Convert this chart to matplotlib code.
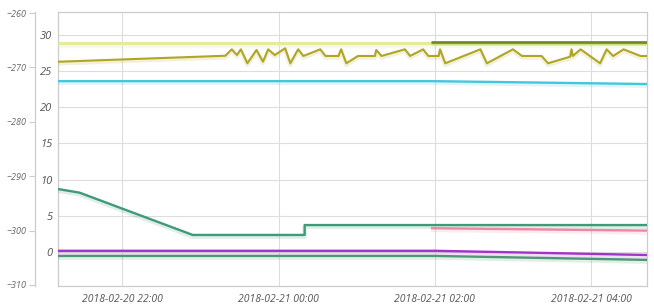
import matplotlib
matplotlib.use("Agg")
import matplotlib.pyplot as plt
import matplotlib.dates as mdates
import matplotlib.patheffects as pe
import pandas as pd

# ---------------- data ----------------
zig_times = ['2018-02-20 21:10:30', '2018-02-20 23:19', '2018-02-20 23:24', '2018-02-20 23:28',
             '2018-02-20 23:31', '2018-02-20 23:36', '2018-02-20 23:43', '2018-02-20 23:48',
             '2018-02-20 23:52', '2018-02-20 23:57', '2018-02-21 00:05', '2018-02-21 00:09',
             '2018-02-21 00:15', '2018-02-21 00:19', '2018-02-21 00:32', '2018-02-21 00:36',
             '2018-02-21 00:46', '2018-02-21 00:48', '2018-02-21 00:52', '2018-02-21 01:01',
             '2018-02-21 01:14', '2018-02-21 01:15', '2018-02-21 01:19', '2018-02-21 01:37',
             '2018-02-21 01:41', '2018-02-21 01:51', '2018-02-21 01:55', '2018-02-21 02:03',
             '2018-02-21 02:04', '2018-02-21 02:08', '2018-02-21 02:35', '2018-02-21 02:40',
             '2018-02-21 03:00', '2018-02-21 03:07', '2018-02-21 03:22', '2018-02-21 03:27',
             '2018-02-21 03:44', '2018-02-21 03:45', '2018-02-21 03:46', '2018-02-21 03:52',
             '2018-02-21 04:07', '2018-02-21 04:12', '2018-02-21 04:17', '2018-02-21 04:25',
             '2018-02-21 04:38', '2018-02-21 04:43']
zig_vals = [26.3, 27.13, 28.02, 27.23, 28.02, 26.09, 27.93, 26.31, 28.02, 27.23, 28.16, 26.09,
            28.02, 27.1, 28.02, 27.1, 27.1, 28.02, 26.09, 27.1, 27.1, 27.93, 27.1, 28.02,
            27.1, 28.02, 27.1, 27.1, 28.02, 26.09, 28.02, 26.09, 28.02, 27.1, 27.1, 26.09,
            27.0, 28.02, 27.1, 28.02, 26.09, 28.02, 27.1, 28.02, 27.1, 27.1]

light_times = ['2018-02-20 21:10:30', '2018-02-21 04:43']
light_vals = [28.9, 28.9]

olive_times = ['2018-02-21 01:57', '2018-02-21 04:43']
olive_vals = [29.07, 29.07]

cyan_times = ['2018-02-20 21:10:30', '2018-02-21 01:57', '2018-02-21 04:43']
cyan_vals = [23.62, 23.62, 23.22]

green_times = ['2018-02-20 21:10:30', '2018-02-20 21:27', '2018-02-20 22:54',
               '2018-02-21 00:20', '2018-02-21 00:20', '2018-02-21 04:43']
green_vals = [8.7, 8.2, 2.35, 2.35, 3.72, 3.72]

pink_times = ['2018-02-21 01:57', '2018-02-21 04:43']
pink_vals = [3.28, 2.95]

purple_times = ['2018-02-20 21:10:30', '2018-02-21 02:00', '2018-02-21 04:43']
purple_vals = [0.16, 0.16, -0.42]

dgreen_times = ['2018-02-20 21:10:30', '2018-02-21 02:00', '2018-02-21 04:43']
dgreen_vals = [-0.55, -0.55, -1.1]

inner_ticks = [0, 5, 10, 15, 20, 25, 30]
outer_ticks = [-310, -300, -290, -280, -270, -260]
x_ticks = ['2018-02-20 22:00', '2018-02-21 00:00', '2018-02-21 02:00', '2018-02-21 04:00']
x_range = ['2018-02-20 21:10:30', '2018-02-21 04:43']

# ---------------- figure ----------------
W, H = 654, 306
fig = plt.figure(figsize=(W / 100, H / 100), dpi=100)
L, R, T, B = 58, 647, 12, 286
ax = fig.add_axes([L / W, 1 - B / H, (R - L) / W, (B - T) / H])

def t(lst):
    return pd.to_datetime(lst, format='mixed')

def draw(times, vals, color, lw=1.5, shadow_alpha=0.16, z=3):
    ax.plot(t(times), vals, color=color, lw=lw, zorder=z, solid_capstyle='butt',
            path_effects=[pe.SimpleLineShadow(offset=(0, -1.2), shadow_color=color,
                                              alpha=shadow_alpha, linewidth=lw + 1.6),
                          pe.Normal()])

draw(light_times, light_vals, '#e3ec9a', lw=2.3, shadow_alpha=0.25)
draw(olive_times, olive_vals, '#6f8a23', lw=1.9)
draw(zig_times, zig_vals, '#b0a623', lw=1.5)
draw(cyan_times, cyan_vals, '#45c6dc', lw=1.7)
draw(green_times, green_vals, '#3f9a78', lw=1.7)
draw(pink_times, pink_vals, '#ee86a6', lw=1.7)
draw(dgreen_times, dgreen_vals, '#4d9a72', lw=1.7)
draw(purple_times, purple_vals, '#a333c9', lw=1.7)

ax.set_ylim(-4.71, 33.18)
ax.set_xlim(t(x_range))
ax.set_yticks(inner_ticks)
ax.set_xticks(t(x_ticks))
ax.xaxis.set_major_formatter(mdates.DateFormatter('%Y-%m-%d %H:%M'))
ax.grid(True, color='#dddddd', lw=0.8, zorder=0)
ax.set_axisbelow(True)
for s in ax.spines.values():
    s.set_color('#cccccc')
    s.set_linewidth(0.9)
ax.tick_params(axis='both', length=0, colors='#555555')
ax.tick_params(axis='y', pad=4, labelsize=8)
ax.tick_params(axis='x', pad=6, labelsize=7.5)
for lab in ax.get_yticklabels() + ax.get_xticklabels():
    lab.set_fontfamily('Open Sans')
    lab.set_fontstyle('italic')

ax2 = ax.twinx()
ax2.set_ylim(-310.2, -259.8)
ax2.set_yticks(outer_ticks)
ax2.yaxis.set_ticks_position('left')
ax2.yaxis.set_label_position('left')
for name in ['right', 'top', 'bottom']:
    ax2.spines[name].set_visible(False)
ax2.spines['left'].set_position(('outward', 23 * 0.72))
ax2.spines['left'].set_color('#cccccc')
ax2.spines['left'].set_linewidth(0.9)
ax2.tick_params(axis='y', length=4, color='#cccccc', colors='#666666', labelsize=6.5, pad=2)
for lab in ax2.get_yticklabels():
    lab.set_fontfamily('Open Sans')
    lab.set_fontstyle('italic')

fig.savefig('out.png', dpi=100)
